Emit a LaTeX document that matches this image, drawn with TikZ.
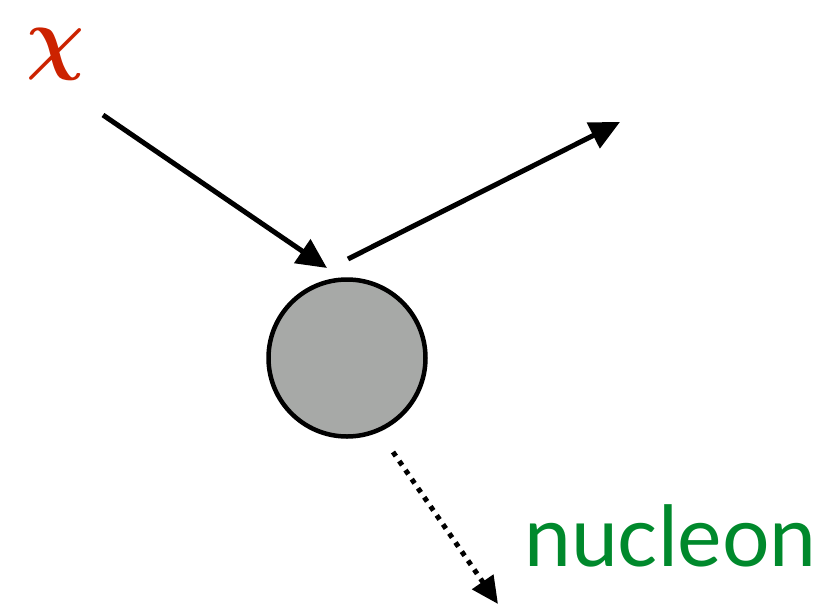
\documentclass[tikz,border=0pt]{standalone}
\usepackage{fontspec}
\usepackage{graphicx}
\setmainfont{Lato}
\usetikzlibrary{arrows.meta}
\definecolor{chired}{HTML}{CC2200}
\definecolor{nucgreen}{HTML}{00892C}
\definecolor{ballgray}{HTML}{A7A9A7}
\tikzset{
  ptcl/.style={line width=5pt, -{Triangle[length=30pt,width=28pt]}},
  dotptcl/.style={line width=5pt, dash pattern=on 5pt off 6pt, -{Triangle[length=27pt,width=25pt]}},
  ball/.style={circle, draw, line width=4.5pt, fill=ballgray, minimum size=157pt, inner sep=0pt}
}
\begin{document}
\begin{tikzpicture}[x=1pt,y=-1pt]
\useasboundingbox (0,0) rectangle (830,606);
\node[ball] (nuc) at (347,358) {};
\node[text=chired, inner sep=0pt] (chi) at (56,54) {\scalebox{8.1}{\boldmath$\chi$}};
\node[text=nucgreen, font=\fontsize{84}{90}\selectfont, anchor=base west, inner sep=0pt] (nucl) at (524,566) {nucleon};
\coordinate (a1s) at (103,115);
\coordinate (a1e) at (327,268);
\coordinate (a2s) at (348,259);
\coordinate (a2e) at (620,122);
\coordinate (a3s) at (393,452);
\coordinate (a3e) at (498,604);
\draw[ptcl] (a1s) -- (a1e);
\draw[ptcl] (a2s) -- (a2e);
\draw[dotptcl] (a3s) -- (a3e);
\end{tikzpicture}
\end{document}
